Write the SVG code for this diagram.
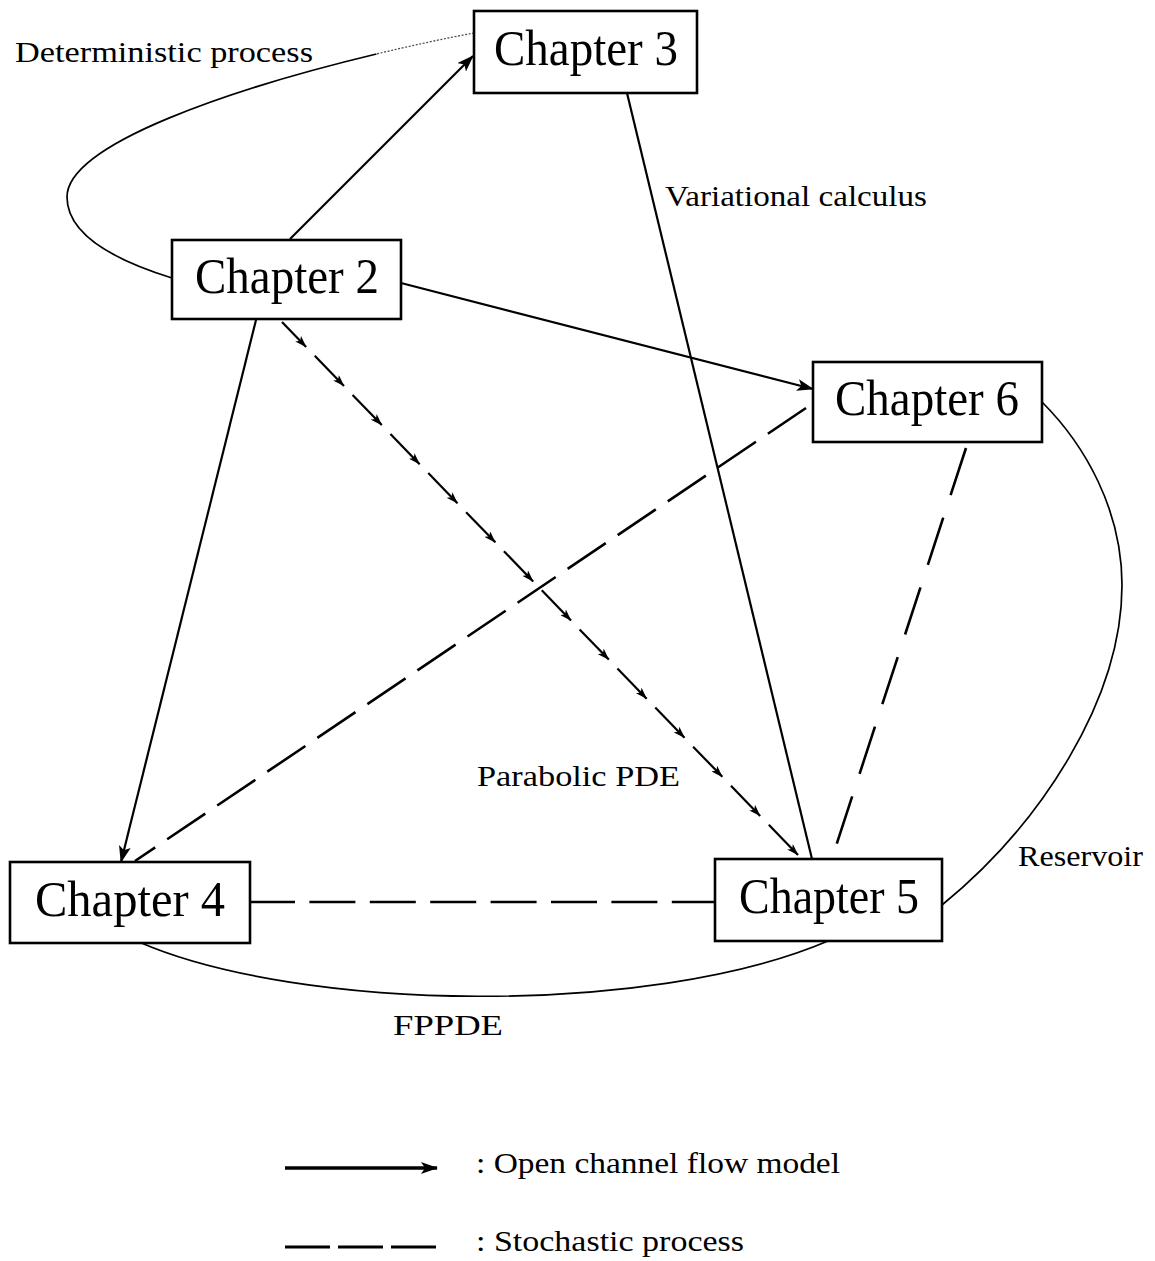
<svg xmlns="http://www.w3.org/2000/svg" width="1155" height="1261" viewBox="0 0 1155 1261">
  <style>
    .box { fill: #fff; stroke: #000; stroke-width: 2.6; }
    .node-text { font-family: "Liberation Serif", "Times New Roman", serif; font-size: 51px; fill: #000; text-anchor: middle; }
    .label { font-family: "Liberation Serif", "Times New Roman", serif; font-size: 29px; fill: #000; }
    .solid { fill: none; stroke: #000; stroke-width: 2.2; }
    .curve { fill: none; stroke: #000; stroke-width: 1.7; }
    .faint { fill: none; stroke: #444; stroke-width: 1.2; stroke-dasharray: 2 1.6; }
    .dash { fill: none; stroke: #000; stroke-width: 2.6; stroke-dasharray: 46 14.4; }
    .dash-long-gap { fill: none; stroke: #000; stroke-width: 2.6; stroke-dasharray: 49.6 23.7; }
    .flow { stroke: #000; stroke-width: 2.2; marker-end: url(#tip-small); }
  </style>
  <defs>
    <marker id="tip" markerUnits="userSpaceOnUse" markerWidth="17" markerHeight="12" viewBox="0 0 17 12" refX="16" refY="6" orient="auto">
      <path d="M0,0 L17,6 L0,12 L4,6 z" fill="#000"/>
    </marker>
    <marker id="tip-small" markerUnits="userSpaceOnUse" markerWidth="12" markerHeight="8" viewBox="0 0 12 8" refX="11.5" refY="4" orient="auto">
      <path d="M0,0 L12,4 L0,8 L3,4 z" fill="#000"/>
    </marker>
  </defs>

  <rect width="1155" height="1261" fill="#fff"/>

  <!-- connectors -->
  <g id="connectors">
    <!-- Chapter 2 -> Chapter 3 (deterministic loop, upper end fades to dots) -->
    <path class="faint" d="M474,33 C445.2,38.4 411.6,45.5 376.4,54"/>
    <path class="curve" d="M376.4,54 C235.3,87.9 67,143.4 67,197 C67,240 130,265 172,278"/>

    <!-- open channel flow model arrows -->
    <line class="solid" x1="290" y1="239" x2="473" y2="56" marker-end="url(#tip)"/>
    <line class="solid" x1="401" y1="283" x2="813" y2="389" marker-end="url(#tip)"/>
    <line class="solid" x1="256" y1="320" x2="121" y2="862" marker-end="url(#tip)"/>

    <!-- Chapter 3 - Chapter 5 (variational calculus) -->
    <line class="solid" x1="627" y1="93" x2="812" y2="859"/>

    <!-- Chapter 2 -> Chapter 5 (parabolic PDE), dashed with an arrow on every dash -->
    <g id="parabolic-pde">
      <line class="flow" x1="282" y1="322" x2="306.13" y2="346.93"/>
      <line class="flow" x1="314.76" y1="355.84" x2="343.97" y2="386.01"/>
      <line class="flow" x1="352.59" y1="394.92" x2="381.80" y2="425.09"/>
      <line class="flow" x1="390.43" y1="434.00" x2="419.64" y2="464.17"/>
      <line class="flow" x1="428.26" y1="473.08" x2="457.47" y2="503.25"/>
      <line class="flow" x1="466.10" y1="512.16" x2="495.31" y2="542.33"/>
      <line class="flow" x1="503.94" y1="551.24" x2="533.15" y2="581.41"/>
      <line class="flow" x1="541.77" y1="590.33" x2="570.98" y2="620.50"/>
      <line class="flow" x1="579.61" y1="629.41" x2="608.82" y2="659.58"/>
      <line class="flow" x1="617.44" y1="668.49" x2="646.65" y2="698.66"/>
      <line class="flow" x1="655.28" y1="707.57" x2="684.49" y2="737.74"/>
      <line class="flow" x1="693.11" y1="746.65" x2="722.32" y2="776.82"/>
      <line class="flow" x1="730.95" y1="785.73" x2="760.16" y2="815.90"/>
      <line class="flow" x1="768.79" y1="824.83" x2="798" y2="855"/>
    </g>

    <!-- stochastic process links -->
    <line class="dash" x1="806" y1="408" x2="135" y2="861"/>
    <line class="dash" x1="249" y1="902" x2="715" y2="902"/>
    <line class="dash-long-gap" x1="966" y1="448" x2="836" y2="846"/>

    <!-- Chapter 6 - Chapter 5 (reservoir) -->
    <path class="curve" d="M1042,402 C1085,445 1122,510 1122,585 C1122,700 1040,825 942,905"/>

    <!-- Chapter 4 - Chapter 5 (FPPDE) -->
    <path class="curve" d="M139,942 C300,1012 650,1017 828,941"/>
  </g>

  <!-- nodes -->
  <g id="chapter-3">
    <rect class="box" x="474" y="11" width="223" height="82"/>
    <text class="node-text" x="586" y="65" textLength="184" lengthAdjust="spacingAndGlyphs">Chapter 3</text>
  </g>
  <g id="chapter-2">
    <rect class="box" x="172" y="240" width="229" height="79"/>
    <text class="node-text" x="287" y="292.5" textLength="184" lengthAdjust="spacingAndGlyphs">Chapter 2</text>
  </g>
  <g id="chapter-6">
    <rect class="box" x="813" y="362" width="229" height="80"/>
    <text class="node-text" x="927" y="415" textLength="184" lengthAdjust="spacingAndGlyphs">Chapter 6</text>
  </g>
  <g id="chapter-4">
    <rect class="box" x="10" y="862" width="240" height="81"/>
    <text class="node-text" x="130" y="915.5" textLength="190" lengthAdjust="spacingAndGlyphs">Chapter 4</text>
  </g>
  <g id="chapter-5">
    <rect class="box" x="715" y="859" width="227" height="82"/>
    <text class="node-text" x="829" y="913" textLength="180" lengthAdjust="spacingAndGlyphs">Chapter 5</text>
  </g>

  <!-- connector labels -->
  <g id="labels">
    <text class="label" x="15" y="62" textLength="298" lengthAdjust="spacingAndGlyphs">Deterministic process</text>
    <text class="label" x="665" y="206" textLength="262" lengthAdjust="spacingAndGlyphs">Variational calculus</text>
    <text class="label" x="477" y="786" textLength="203" lengthAdjust="spacingAndGlyphs">Parabolic PDE</text>
    <text class="label" x="1018" y="866" textLength="125" lengthAdjust="spacingAndGlyphs">Reservoir</text>
    <text class="label" x="393" y="1035" textLength="110" lengthAdjust="spacingAndGlyphs">FPPDE</text>
  </g>

  <!-- legend -->
  <g id="legend">
    <line x1="285" y1="1168" x2="437" y2="1168" stroke="#000" stroke-width="3.5" marker-end="url(#tip)"/>
    <text class="label" x="476" y="1173" textLength="364" lengthAdjust="spacingAndGlyphs">: Open channel flow model</text>
    <line x1="285" y1="1247" x2="437" y2="1247" stroke="#000" stroke-width="3.2" stroke-dasharray="45 8"/>
    <text class="label" x="476" y="1251" textLength="268" lengthAdjust="spacingAndGlyphs">: Stochastic process</text>
  </g>
</svg>
